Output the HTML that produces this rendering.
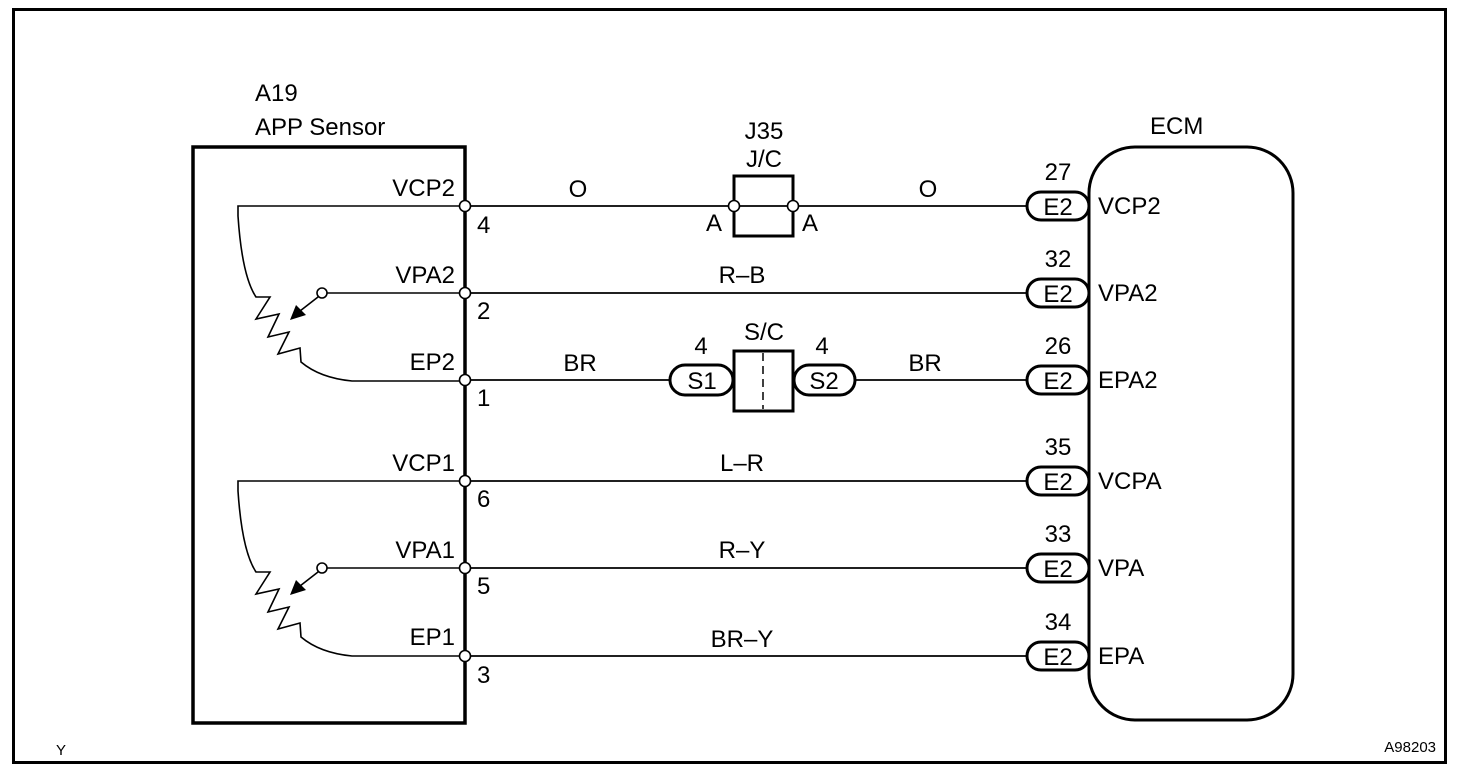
<!DOCTYPE html>
<html><head><style>
html,body{margin:0;padding:0;background:#fff;}
svg{display:block;}
text{font-family:"Liberation Sans",Arial,sans-serif;font-size:24px;fill:#000;}
</style></head><body>
<svg width="1472" height="776" viewBox="0 0 1472 776" xmlns="http://www.w3.org/2000/svg">
<rect x="13.5" y="9.5" width="1432" height="753" fill="none" stroke="#000" stroke-width="3"/>
<rect x="193" y="147" width="272" height="576" fill="none" stroke="#000" stroke-width="3.5"/>
<rect x="1089" y="147" width="204" height="573" rx="46" ry="46" fill="none" stroke="#000" stroke-width="3"/>
<text x="255" y="101">A19</text>
<text x="255" y="135">APP Sensor</text>
<text x="1150" y="134">ECM</text>

<defs>
<g id="pot">
<path d="M465,0 H238 V10 Q242,70 256,91 L270,91 L256,113 L279,108 L268,131 L289,126 L278,148 L300,142 L301,156 Q320,172 352,175 H465" fill="none" stroke="#000" stroke-width="1.6"/>
<line x1="465" y1="87" x2="327" y2="87" stroke="#000" stroke-width="1.6"/>
<circle cx="322" cy="87" r="5" fill="#fff" stroke="#000" stroke-width="1.6"/>
<line x1="318" y1="91" x2="300" y2="105" stroke="#000" stroke-width="1.6"/>
<polygon points="290,114 296,99 306,109" fill="#000"/>
</g>
<g id="e2">
<rect x="1027" y="-14" width="62" height="28" rx="14" fill="#fff" stroke="#000" stroke-width="3"/>
<text x="1058" y="9" text-anchor="middle">E2</text>
</g>
</defs>
<use href="#pot" transform="translate(0,206)"/>
<use href="#pot" transform="translate(0,481)"/>

<g stroke="#000" stroke-width="1.8">
<line x1="465" y1="206" x2="1028" y2="206"/>
<line x1="465" y1="293" x2="1028" y2="293"/>
<line x1="465" y1="380" x2="1028" y2="380"/>
<line x1="465" y1="481" x2="1028" y2="481"/>
<line x1="465" y1="568" x2="1028" y2="568"/>
<line x1="465" y1="656" x2="1028" y2="656"/>
</g>
<g fill="#fff" stroke="#000" stroke-width="1.6">
<circle cx="465" cy="206" r="5.5"/><circle cx="465" cy="293" r="5.5"/><circle cx="465" cy="380" r="5.5"/>
<circle cx="465" cy="481" r="5.5"/><circle cx="465" cy="568" r="5.5"/><circle cx="465" cy="656" r="5.5"/>
</g>
<g text-anchor="end">
<text x="455" y="196">VCP2</text><text x="455" y="283">VPA2</text><text x="455" y="370">EP2</text>
<text x="455" y="471">VCP1</text><text x="455" y="558">VPA1</text><text x="455" y="645">EP1</text>
</g>
<text x="477" y="233">4</text><text x="477" y="319">2</text><text x="477" y="406">1</text>
<text x="477" y="507">6</text><text x="477" y="594">5</text><text x="477" y="683">3</text>

<text x="764" y="139" text-anchor="middle">J35</text>
<text x="764" y="167" text-anchor="middle">J/C</text>
<rect x="734" y="176" width="59" height="60" fill="#fff" stroke="#000" stroke-width="3"/>
<line x1="734" y1="206" x2="793" y2="206" stroke="#000" stroke-width="1.8"/>
<circle cx="734" cy="206" r="5.5" fill="#fff" stroke="#000" stroke-width="1.6"/>
<circle cx="793" cy="206" r="5.5" fill="#fff" stroke="#000" stroke-width="1.6"/>
<text x="706" y="231">A</text><text x="802" y="231">A</text>
<text x="578" y="197" text-anchor="middle">O</text>
<text x="928" y="197" text-anchor="middle">O</text>
<text x="742" y="283" text-anchor="middle">R–B</text>

<text x="764" y="340" text-anchor="middle">S/C</text>
<rect x="734" y="351" width="59" height="60" fill="#fff" stroke="#000" stroke-width="3"/>
<line x1="763" y1="353" x2="763" y2="409" stroke="#000" stroke-width="1.5" stroke-dasharray="8,5"/>
<rect x="670" y="365" width="63" height="30" rx="15" fill="#fff" stroke="#000" stroke-width="3"/>
<text x="702" y="389" text-anchor="middle">S1</text>
<rect x="794" y="365" width="61" height="30" rx="15" fill="#fff" stroke="#000" stroke-width="3"/>
<text x="824" y="389" text-anchor="middle">S2</text>
<text x="701" y="354" text-anchor="middle">4</text>
<text x="822" y="354" text-anchor="middle">4</text>
<text x="580" y="371" text-anchor="middle">BR</text>
<text x="925" y="371" text-anchor="middle">BR</text>
<text x="742" y="471" text-anchor="middle">L–R</text>
<text x="742" y="558" text-anchor="middle">R–Y</text>
<text x="742" y="647" text-anchor="middle">BR–Y</text>

<use href="#e2" transform="translate(0,206)"/>
<use href="#e2" transform="translate(0,293)"/>
<use href="#e2" transform="translate(0,380)"/>
<use href="#e2" transform="translate(0,481)"/>
<use href="#e2" transform="translate(0,568)"/>
<use href="#e2" transform="translate(0,656)"/>
<g text-anchor="middle">
<text x="1058" y="180">27</text><text x="1058" y="267">32</text><text x="1058" y="354">26</text>
<text x="1058" y="455">35</text><text x="1058" y="542">33</text><text x="1058" y="630">34</text>
</g>
<text x="1098" y="214">VCP2</text><text x="1098" y="301">VPA2</text><text x="1098" y="388">EPA2</text>
<text x="1098" y="489">VCPA</text><text x="1098" y="576">VPA</text><text x="1098" y="664">EPA</text>

<text x="56" y="755" style="font-size:15px">Y</text>
<text x="1436" y="752" text-anchor="end" style="font-size:15px">A98203</text>
</svg>
</body></html>
